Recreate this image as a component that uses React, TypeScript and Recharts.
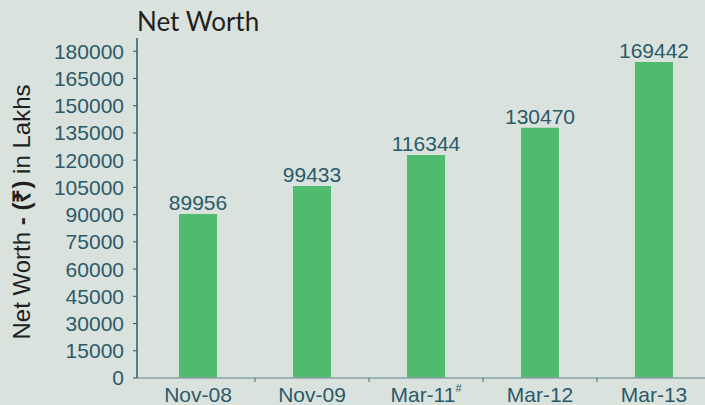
import React from "react";
import { BarChart, Bar, XAxis, YAxis, LabelList, Label } from "recharts";

const categories = ["Nov-08", "Nov-09", "Mar-11", "Mar-12", "Mar-13"];
const footnotes = ["", "", "#", "", ""];
const barHeights = [90400, 105800, 122900, 137800, 174100];
const valueLabels = ["89956", "99433", "116344", "130470", "169442"];
const yTicks = [0, 15000, 30000, 45000, 60000, 75000, 90000, 105000, 120000, 135000, 150000, 165000, 180000];

const data = categories.map((c, i) => ({
  name: c,
  note: footnotes[i],
  value: barHeights[i],
  label: valueLabels[i],
}));

const TEXT = "#2b5a69";
const FONT = "'Liberation Sans', Arial, sans-serif";

const XTick = (props: any) => {
  const { x, y, payload, index } = props;
  const note = data[index] ? data[index].note : "";
  return (
    <g>
      <line x1={x + 57} x2={x + 57} y1={y - 9} y2={y - 5} stroke="#4a6c78" strokeWidth={1} />
      <text x={x} y={y} dy="0.71em" textAnchor="middle" fill={TEXT} fontSize={21} fontFamily={FONT}>
        {payload.value}
        {note ? (
          <tspan fontSize={11} dy="-0.9em">{note}</tspan>
        ) : null}
      </text>
    </g>
  );
};

const YLabel = (props: any) => {
  const { viewBox } = props;
  const cx = viewBox.x + 21;
  const cy = viewBox.y + viewBox.height / 2 + 4;
  return (
    <text
      x={cx}
      y={cy}
      transform={`rotate(-90 ${cx} ${cy})`}
      textAnchor="middle"
      dominantBaseline="central"
      fill="#231f20"
      fontSize={24}
      fontFamily={FONT}
    >
      Net Worth <tspan fontWeight="bold">- (₹)</tspan> in Lakhs
    </text>
  );
};

export default function App() {
  return (
    <div
      style={{
        position: "absolute",
        left: 0,
        top: 0,
        width: 705,
        height: 405,
        overflow: "hidden",
        background: "#d9e2dd",
      }}
    >
      <div
        style={{
          position: "absolute",
          left: 137,
          top: 3,
          fontFamily: "Lato, 'Open Sans', sans-serif",
          fontSize: 26,
          color: "#231f20",
          lineHeight: "36px",
        }}
      >
        Net Worth
      </div>
      <BarChart
        width={712}
        height={405}
        data={data}
        margin={{ top: 38, right: 1, bottom: 0, left: 0 }}
        barSize={38}
      >
        <XAxis
          dataKey="name"
          height={27}
          padding={{ left: 4, right: 0 }}
          axisLine={{ stroke: "#8aa1a6", strokeWidth: 1.5 }}
          tickLine={false}
          tickSize={5}
          tickMargin={4}
          tick={<XTick />}
          interval={0}
        />
        <YAxis
          width={137}
          domain={[0, 187300]}
          ticks={yTicks}
          interval={0}
          axisLine={{ stroke: "#2f5866", strokeWidth: 1.5 }}
          tickLine={{ stroke: "#2f5866" }}
          tickSize={4}
          tickMargin={9}
          tick={{ fill: TEXT, fontSize: 21, fontFamily: FONT }}
        >
          <Label content={<YLabel />} />
        </YAxis>
        <Bar dataKey="value" fill="#50bb6f" isAnimationActive={false}>
          <LabelList
            dataKey="label"
            position="top"
            offset={4}
            fill={TEXT}
            fontSize={21}
            fontFamily={FONT}
          />
        </Bar>
      </BarChart>
    </div>
  );
}
